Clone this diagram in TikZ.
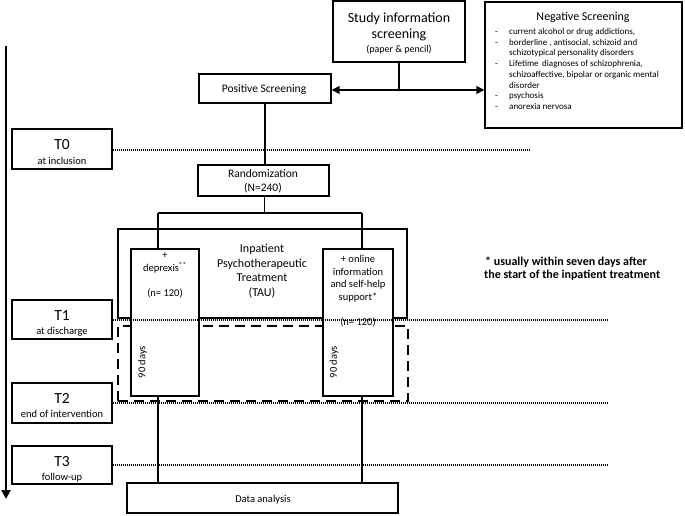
\documentclass[tikz,border=0pt]{standalone}
\usepackage{fontspec}
\setmainfont{Carlito}
\usetikzlibrary{arrows.meta}
\begin{document}
\begin{tikzpicture}[x=1pt,y=-1pt,
  >={Triangle[length=8pt,width=8pt]},
  box/.style={draw,line width=1.3pt,inner sep=0pt,fill=white},
  conn/.style={line width=1.5pt},
  dotline/.style={line width=1.3pt,dash pattern=on 1pt off 1pt},
  txt/.style={inner sep=0pt,anchor=base},
  fbig/.style={font=\fontsize{14}{16}\selectfont},
  fmid/.style={font=\fontsize{11.5}{13}\selectfont},
  ftau/.style={font=\fontsize{12}{14}\selectfont},
  fsm/.style={font=\fontsize{10.5}{12}\selectfont},
  fps/.style={font=\fontsize{10}{12}\selectfont},
  ft/.style={font=\fontsize{15.5}{17}\selectfont},
  fnote/.style={font=\bfseries\fontsize{12}{13}\selectfont},
]
\useasboundingbox (0,0) rectangle (685,515);

% timeline
\coordinate (tltop) at (6,46);
\coordinate (tlbot) at (6,499);
\draw[line width=2pt,-{Triangle[length=9pt,width=9pt]}] (tltop) -- (tlbot);

% top boxes
\node[box,minimum width=132pt,minimum height=61pt] (study) at (399,31.5) {};
\node[txt,fbig] (studyA) at (399,22.5) {Study information};
\node[txt,fbig] (studyB) at (399,38.5) {screening};
\node[txt,fps] (studyC) at (399,52.5) {(paper \& pencil)};

\node[box,minimum width=197pt,minimum height=126pt] (neg) at (583.5,65) {};
\node[txt,font=\fontsize{12}{14}\selectfont] (negT) at (583,20.5) {Negative Screening};
\node[inner sep=0pt,anchor=base west] (negL) at (495,34.5)
 {\fontsize{9}{10.7}\selectfont\begin{tabular}[t]{@{}p{14pt}@{}l@{}}
 - & current alcohol or drug addictions,\\
 - & borderline , antisocial, schizoid and\\
   & schizotypical personality disorders\\
 - & Lifetime\, diagnoses of schizophrenia,\\
   & schizoaffective, bipolar or organic mental\\
   & disorder\\
 - & psychosis\\
 - & anorexia nervosa
 \end{tabular}};

\node[box,minimum width=132pt,minimum height=29pt] (pos) at (265,88.5) {};
\node[txt,fmid] (posT) at (264,92) {Positive Screening};

\coordinate (arr) at (399,90);
\draw[conn] (study.south) -- (arr);
\draw[conn,<->] (pos.east |- arr) -- (neg.west |- arr);

\node[box,minimum width=131pt,minimum height=31pt] (rand) at (263.5,180.5) {};
\node[txt,fmid] (randA) at (263,177.3) {Randomization};
\node[txt,fmid] (randB) at (263,191) {(N=240)};
\draw[conn] (pos.south) -- (pos.south |- rand.north);

% T boxes
\node[box,minimum width=100pt,minimum height=40pt] (t0) at (62,149) {};
\node[txt,ft] (t0A) at (62,149.3) {T0};
\node[txt,fsm] (t0B) at (62,164) {at inclusion};
\node[box,minimum width=100pt,minimum height=39pt] (t1) at (62,319.5) {};
\node[txt,ft] (t1A) at (62,320) {T1};
\node[txt,fsm] (t1B) at (62,334) {at discharge};
\node[box,minimum width=100pt,minimum height=40pt] (t2) at (62,403) {};
\node[txt,ft] (t2A) at (62,403) {T2};
\node[txt,fsm] (t2B) at (62,417) {end of intervention};
\node[box,minimum width=100pt,minimum height=38pt] (t3) at (62,465) {};
\node[txt,ft] (t3A) at (62,466) {T3};
\node[txt,fsm] (t3B) at (62,480) {follow-up};

% TAU and arms
\node[box,minimum width=289pt,minimum height=89pt] (tau) at (262.5,273.5) {};
\node[txt,ftau] (tauA) at (262,252.7) {Inpatient};
\node[txt,ftau] (tauB) at (262,267) {Psychotherapeutic};
\node[txt,ftau] (tauC) at (262,281.5) {Treatment};
\node[txt,ftau] (tauD) at (262,296) {(TAU)};

\node[draw,line width=1.5pt,dash pattern=on 10pt off 6pt,inner sep=0pt,minimum width=290pt,minimum height=75pt] (dbox) at (263,363.5) {};

\node[box,minimum width=68pt,minimum height=147pt] (dep) at (165,322.5) {};
\node[txt,fsm] (depA) at (165,258.5) {+};
\node[txt,fsm] (depB) at (165,271.7) {deprexis\textsuperscript{®*}};
\node[txt,fsm] (depC) at (165,296.7) {(n= 120)};
\node[txt,fsm,anchor=center,rotate=90] (depD) at (142.5,362) {90 days};

\node[box,minimum width=70pt,minimum height=147pt] (onl) at (358,322.5) {};
\node[txt,fsm] (onlA) at (358,262.7) {+ online};
\node[txt,fsm] (onlB) at (358,275) {information};
\node[txt,fsm] (onlC) at (358,287.3) {and self-help};
\node[txt,fsm] (onlD) at (358,300) {support*};
\node[txt,fsm] (onlE) at (358,325) {(n= 120)};
\node[txt,fsm,anchor=center,rotate=90] (onlF) at (334,362) {90 days};

% branches
\coordinate (split) at (264.5,213);
\coordinate (bl) at (158,213);
\coordinate (br) at (362,213);
\draw[conn] (rand.south -| split) -- (split);
\draw[conn] (bl) -- (br);
\draw[conn] (bl) -- (bl |- dep.north);
\draw[conn] (br) -- (br |- onl.north);

% data analysis
\node[box,minimum width=271pt,minimum height=30pt] (data) at (262.5,498) {};
\node[txt,fsm] (dataT) at (263,502) {Data analysis};
\draw[conn] (bl |- dep.south) -- (bl |- data.north);
\draw[conn] (br |- onl.south) -- (br |- data.north);

% dotted time lines
\coordinate (e0) at (530,150);
\coordinate (e1) at (607,320);
\coordinate (e2) at (607,403);
\coordinate (e3) at (607,465);
\draw[dotline] (t0.east |- e0) -- (e0);
\draw[dotline] (t1.east |- e1) -- (e1);
\draw[dotline] (t2.east |- e2) -- (e2);
\draw[dotline] (t3.east |- e3) -- (e3);

% footnote
\node[txt,fnote,anchor=base west] (noteA) at (485,265) {* usually within seven days after};
\node[txt,fnote,anchor=base west] (noteB) at (484,278.5) {the start of the inpatient treatment};
\end{tikzpicture}
\end{document}
